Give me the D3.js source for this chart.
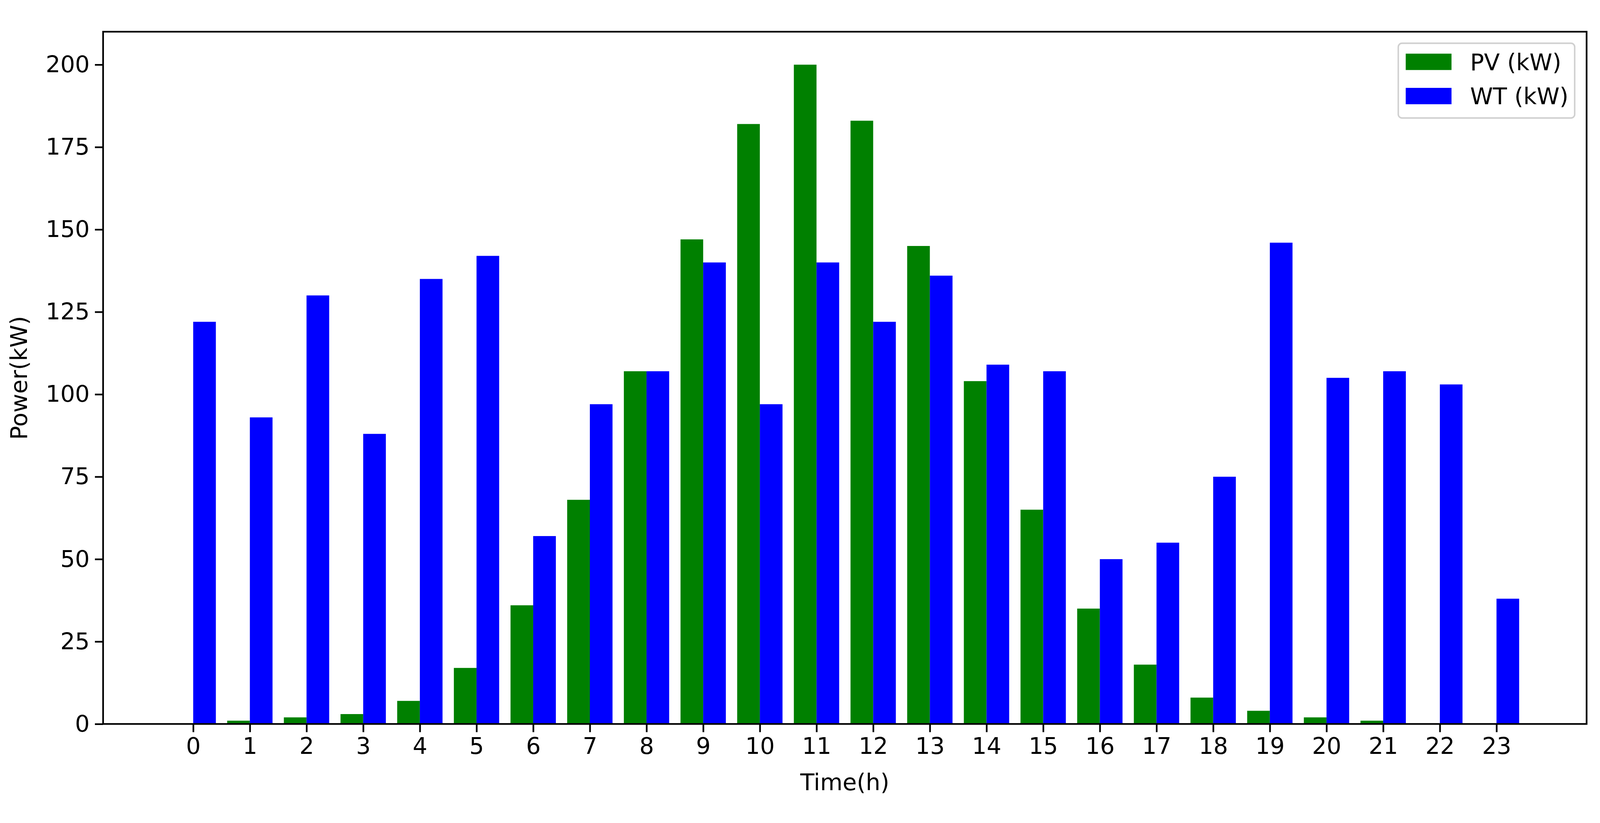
<!DOCTYPE html>
<html><head><meta charset="utf-8">
<script src="https://cdn.jsdelivr.net/npm/d3@7"></script>
<style>html,body{margin:0;padding:0;background:#fff;overflow:hidden}svg{display:block;font-family:"DejaVu Sans",sans-serif;width:100vw;height:100vh}</style>
</head><body>
<script>
const hours = d3.range(0,24);
const pv = [0,1,2,3,7,17,36,68,107,147,182,200,183,145,104,65,35,18,8,4,2,1,0,0];
const wt = [122,93,130,88,135,142,57,97,107,140,97,140,122,136,109,107,50,55,75,146,105,107,103,38];
const yTicks = [0,25,50,75,100,125,150,175,200];
const series = [{name:"PV (kW)",color:"#008000",vals:pv,off:-0.4},{name:"WT (kW)",color:"#0000ff",vals:wt,off:0}];

const W=4299,H=2108,L=277,R=4263,T=33,B=1894;
const svg=d3.select("body").append("svg").attr("viewBox",`0 0 ${W} ${H}`).attr("preserveAspectRatio","xMidYMid meet");
const x=d3.scaleLinear().domain([-1.59,24.59]).range([L,R]);
const y=d3.scaleLinear().domain([0,210]).range([B,T]);
const fs=62;

series.forEach(s=>{
  svg.append("g").selectAll("rect").data(hours).join("rect")
    .attr("x",d=>x(d+s.off)).attr("width",x(0.4)-x(0))
    .attr("y",d=>y(s.vals[d])).attr("height",d=>y(0)-y(s.vals[d]))
    .attr("fill",s.color);
});

const xa=svg.append("g").attr("transform",`translate(0,${B})`)
  .call(d3.axisBottom(x).tickValues(hours).tickFormat(d3.format("d")).tickSize(22).tickPadding(14));
const ya=svg.append("g").attr("transform",`translate(${L},0)`)
  .call(d3.axisLeft(y).tickValues(yTicks).tickSize(22).tickPadding(14));
[xa,ya].forEach(a=>{a.select(".domain").remove();a.selectAll("line").attr("stroke","#000").attr("stroke-width",4.5);
  a.selectAll("text").attr("font-size",fs).attr("fill","#000").attr("font-family","DejaVu Sans");});
svg.append("rect").attr("x",L).attr("y",T).attr("width",R-L).attr("height",B-T)
  .attr("fill","none").attr("stroke","#000").attr("stroke-width",4.5);

svg.append("text").attr("x",(L+R)/2).attr("y",2072).attr("text-anchor","middle").attr("font-size",fs).text("Time(h)");
svg.append("text").attr("transform",`translate(72,${(T+B)/2}) rotate(-90)`).attr("text-anchor","middle").attr("font-size",fs).text("Power(kW)");

const lg=svg.append("g");
lg.append("rect").attr("x",3757).attr("y",64).attr("width",474).attr("height",201).attr("rx",10)
  .attr("fill","#fff").attr("fill-opacity",0.8).attr("stroke","#d0d0d0").attr("stroke-width",4);
series.forEach((s,i)=>{
  const cy=114+i*92;
  lg.append("rect").attr("x",3777).attr("y",cy-22).attr("width",123).attr("height",44).attr("fill",s.color);
  lg.append("text").attr("x",3950).attr("y",cy).attr("dy","0.36em").attr("font-size",fs).text(s.name);
});
</script>
</body></html>
